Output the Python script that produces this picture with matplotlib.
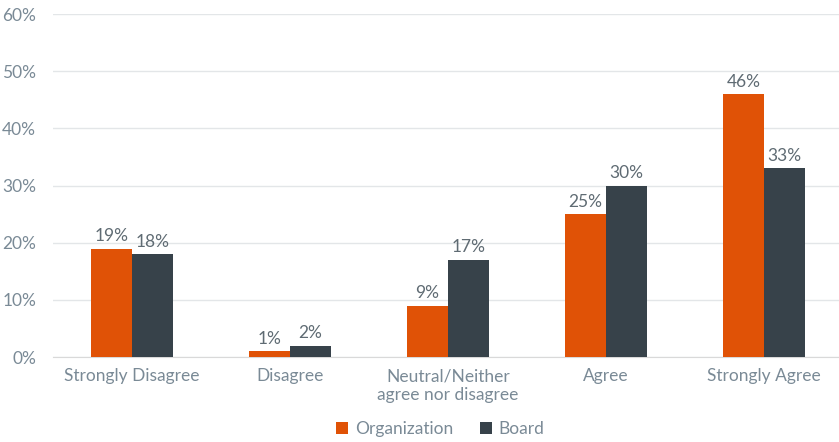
import matplotlib.pyplot as plt
import numpy as np

categories = ["Strongly Disagree", "Disagree", "Neutral/Neither\nagree nor disagree", "Agree", "Strongly Agree"]
organization = [19, 1, 9, 25, 46]
board = [18, 2, 17, 30, 33]
series_names = ["Organization", "Board"]

ORANGE = "#E05206"
DARK = "#37424A"
TEXT = "#7A8A96"

plt.rcParams["font.family"] = ["Lato", "DejaVu Sans"]

fig = plt.figure(figsize=(8.39, 4.42), dpi=100)
ax = fig.add_axes([0.063, 0.192, 0.942, 0.776])

x = np.arange(len(categories))
w = 0.26
bars_o = ax.bar(x - w / 2, organization, w, color=ORANGE, label=series_names[0], zorder=3)
bars_b = ax.bar(x + w / 2, board, w, color=DARK, label=series_names[1], zorder=3)

for bars, vals in [(bars_o, organization), (bars_b, board)]:
    for b, v in zip(bars, vals):
        ax.text(b.get_x() + b.get_width() / 2, v + 0.8, f"{v}%", ha="center", va="bottom",
                fontsize=12.5, color="#5F6B73")

ax.set_xlim(-0.5, len(categories) - 0.5)
ax.set_ylim(0, 60)
ax.set_yticks(range(0, 61, 10))
ax.set_yticklabels([f"{t}%" for t in range(0, 61, 10)])
ax.set_xticks(x)
ax.set_xticklabels(categories)
ax.tick_params(axis="both", length=0, labelsize=12.5, labelcolor=TEXT)
ax.tick_params(axis="x", pad=8)
ax.tick_params(axis="y", pad=12)
ax.grid(axis="y", color="#E3E6E8", linewidth=1, zorder=0)
for s in ["top", "right", "left"]:
    ax.spines[s].set_visible(False)
ax.spines["bottom"].set_color("#D9D9D9")

leg = fig.legend(loc="lower center", bbox_to_anchor=(0.525, -0.025), ncol=2, frameon=False,
                 fontsize=12.5, handlelength=0.7, handleheight=0.7, columnspacing=1.5,
                 handletextpad=0.4)
for t in leg.get_texts():
    t.set_color(TEXT)

fig.savefig("out.png", dpi=100)
